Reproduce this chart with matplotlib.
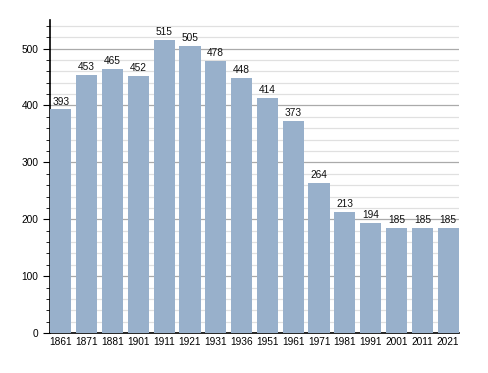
import numpy as np
import matplotlib
matplotlib.use("Agg")
import matplotlib.pyplot as plt
from matplotlib.ticker import MultipleLocator

plt.rcParams['font.family'] = ['Liberation Sans', 'DejaVu Sans']

years = ['1861', '1871', '1881', '1901', '1911', '1921', '1931', '1936',
         '1951', '1961', '1971', '1981', '1991', '2001', '2011', '2021']
population = [393, 453, 465, 452, 515, 505, 478, 448,
              414, 373, 264, 213, 194, 185, 185, 185]

fig = plt.figure(figsize=(4.88, 3.73), dpi=100)
ax = fig.add_axes([0.1025, 0.107, 0.838, 0.839])

x = np.arange(len(years))
ax.bar(x, population, width=0.82, color='#98b0cb', zorder=3)
for xi, v in zip(x, population):
    ax.text(xi, v + 5, str(v), ha='center', va='bottom', fontsize=7.3, color='#111111', zorder=4)

ax.set_xlim(-0.42, len(years) - 0.58)
ax.set_ylim(0, 550)
ax.set_xticks(x)
ax.set_xticklabels(years)
ax.yaxis.set_major_locator(MultipleLocator(100))
ax.yaxis.set_minor_locator(MultipleLocator(20))
ax.grid(axis='y', which='major', color='#aaaaaa', linewidth=0.9, zorder=1)
ax.grid(axis='y', which='minor', color='#e0e0e0', linewidth=0.9, zorder=0)

for s in ['top', 'right']:
    ax.spines[s].set_visible(False)
ax.spines['left'].set_linewidth(1.2)
ax.spines['bottom'].set_linewidth(1.2)
ax.tick_params(axis='x', length=0, labelsize=7.3, pad=3)
ax.tick_params(axis='y', which='major', length=5, labelsize=7.3)
ax.tick_params(axis='y', which='minor', length=3)

fig.savefig('out.png', dpi=100)
